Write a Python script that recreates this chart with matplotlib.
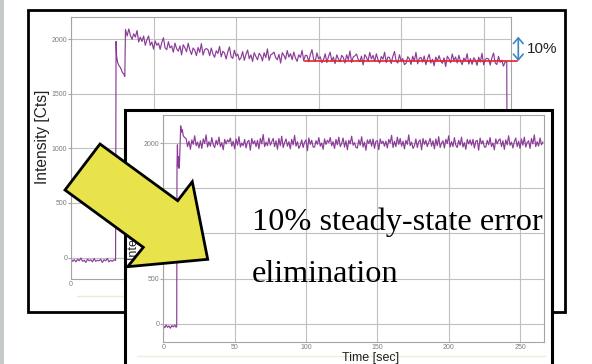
import numpy as np
import matplotlib
matplotlib.use('Agg')
import matplotlib.pyplot as plt
from matplotlib.patches import Rectangle, Polygon, FancyArrowPatch

# ---------------- data ----------------
sample_dt = 1.0  # seconds between samples

# back (uncorrected) trace
back_baseline_start = 0
back_baseline_v = [-10, -35, -20, -40, -15, -30, -5, -35, -25, -45, -15, -30, -20, -40,
                   -10, -35, -25, -30, -15, -45, -20, -30, -10, -40, -25, -35, -20, -28]
back_jump_t = [27.3, 27.6, 28.2, 29.0, 30.0, 31.0, 32.0, 32.6]
back_jump_v = [1980, 1850, 1790, 1760, 1740, 1700, 1680, 1660]
back_steady_start = 33
back_steady_v = [
    2090, 2030, 2095, 2035, 2000, 2050, 2020, 2080, 1975, 2020,
    1980, 2030, 1945, 1995, 2030, 1945, 1975, 1910, 1985, 1945,
    1965, 1908, 1971, 2014, 1922, 1905, 1978, 1921, 1939, 1882,
    1965, 1913, 1891, 1939, 1857, 1950, 1923, 1886, 1964, 1902,
    1860, 1920, 1900, 1850, 1925, 1880, 1960, 1855, 1905, 1915,
    1905, 1850, 1920, 1865, 1835, 1895, 1870, 1935, 1840, 1890,
    1875, 1820, 1885, 1930, 1840, 1825, 1900, 1845, 1865, 1810,
    1832, 1887, 1807, 1862, 1902, 1822, 1857, 1797, 1877, 1842,
    1812, 1872, 1852, 1802, 1877, 1832, 1912, 1807, 1857, 1867,
    1882, 1832, 1812, 1862, 1782, 1877, 1852, 1817, 1897, 1837,
    1868, 1813, 1883, 1828, 1798, 1858, 1833, 1898, 1803, 1853,
    1850, 1795, 1860, 1905, 1815, 1800, 1875, 1820, 1840, 1785,
    1812, 1867, 1787, 1842, 1882, 1802, 1837, 1777, 1857, 1822,
    1793, 1853, 1833, 1783, 1858, 1813, 1893, 1788, 1838, 1848,
    1865, 1815, 1795, 1845, 1765, 1860, 1835, 1800, 1880, 1820,
    1852, 1797, 1867, 1812, 1782, 1842, 1817, 1882, 1787, 1837,
    1833, 1778, 1843, 1888, 1798, 1783, 1858, 1803, 1823, 1768,
    1780, 1840, 1820, 1770, 1845, 1800, 1880, 1775, 1825, 1835,
    1792, 1847, 1767, 1822, 1862, 1782, 1817, 1757, 1837, 1802,
    1850, 1800, 1780, 1830, 1750, 1845, 1820, 1785, 1865, 1805,
    1838, 1783, 1853, 1798, 1768, 1828, 1803, 1868, 1773, 1823,
    1771, 1831, 1811, 1761, 1836, 1791, 1871, 1766, 1816, 1826,
    1819, 1764, 1829, 1874, 1784, 1769, 1844, 1789, 1809, 1754,
    1790, 1795]
back_end_t = [264.4]
back_end_v = [-30]
red_line_level = 1800
red_line_t = [142, 270]

# front (corrected) trace
front_baseline_start = 0
front_baseline_v = [-20, -45, -15, -40, -25, -50, -20, -35, -15, -40]
front_jump_t = [9.4, 9.6, 9.9, 10.2, 10.6, 11.0, 11.4, 11.8, 12.2, 12.7, 13.3, 14.0, 15.0]
front_jump_v = [-30, 1750, 1980, 1740, 1850, 1720, 1800, 2000, 2190, 2120, 2150, 2080, 2060]
front_steady_start = 16
front_steady_v = [
    2050, 1960, 2020, 1930, 2035, 1985, 2080, 1970, 2010, 1945,
    2025, 1940, 2045, 1995, 2090, 1955, 2015, 1965, 2060, 1980,
    1950, 2030, 1980, 2065, 1960, 2005, 1925, 2040, 1990, 2035,
    2010, 2055, 1965, 2020, 1935, 2045, 1975, 2070, 1955, 2000,
    1970, 2040, 1945, 2015, 2030, 1920, 2050, 1990, 2025, 1960,
    2030, 1935, 2050, 1990, 2095, 1960, 2010, 1970, 2055, 1975,
    2015, 2050, 1960, 2025, 1930, 2050, 1970, 2075, 1950, 2005,
    2045, 1965, 2015, 1935, 2040, 1980, 2085, 1965, 2015, 1940,
    1975, 2035, 1950, 2010, 2035, 1915, 2055, 1985, 2030, 1955,
    1955, 2025, 1985, 2060, 1965, 2000, 1930, 2045, 1985, 2030,
    2005, 2060, 1970, 2015, 1940, 2040, 1980, 2065, 1960, 1995,
    2055, 1955, 2025, 1925, 2030, 1990, 2075, 1975, 2005, 1950,
    1945, 2035, 1975, 2070, 1955, 2010, 1920, 2035, 1995, 2040,
    1965, 2045, 1940, 2020, 2025, 1925, 2045, 1995, 2020, 1965,
    2020, 1945, 2040, 2000, 2085, 1950, 2020, 1960, 2065, 1985,
    2050, 1965, 2020, 1935, 2030, 1985, 2090, 1970, 2010, 1940,
    1970, 2045, 1950, 2015, 2035, 1925, 2050, 1985, 2030, 1960,
    2010, 2050, 1965, 2025, 1935, 2045, 1970, 2070, 1950, 2000,
    2025, 1945, 2040, 1995, 2080, 1955, 2015, 1960, 2060, 1975,
    1950, 2030, 1975, 2065, 1955, 2005, 1930, 2040, 1990, 2035,
    1975, 2040, 1945, 2020, 2030, 1920, 2055, 1990, 2025, 1955,
    1955, 2030, 1980, 2060, 1960, 2000, 1925, 2045, 1990, 2030,
    2045, 1960, 2025, 1930, 2035, 1980, 2080, 1975, 2010, 1945,
    2015, 2055, 1960, 2020, 1940, 2045, 1975, 2065, 1955, 2005,
    2025, 1940, 2050, 1990, 2090, 1960, 2015, 1965, 2055, 1980,
    2010]

x_ticks = [0, 50, 100, 150, 200, 250]
x_tick_labels = ['0', '50', '100', '150', '200', '250']
back_x_tick_labels = ['0', '', '', '', '', '']  # the rest are hidden by the front panel
y_ticks = [0, 500, 1000, 1500, 2000]
y_tick_labels = ['0', '500', '1000', '1500', '2000']

y_label = 'Intensity [Cts]'
x_label = 'Time [sec]'
annot_pct = '10%'
message_line1 = '10% steady-state error'
message_line2 = 'elimination'

# ---------------- figure ----------------
W, H = 592, 364
purple = '#8b3c98'
grid_c = '#c0c0c0'
spine_c = '#a4a4a4'
tick_c = '#7c7c7c'
sans = ['Liberation Sans', 'DejaVu Sans']
serif = ['Liberation Serif', 'DejaVu Serif']

fig = plt.figure(figsize=(W / 100, H / 100), dpi=100)
fig.patch.set_facecolor('white')


def px_rect(x0, y0, x1, y1):
    return [x0 / W, 1 - y1 / H, (x1 - x0) / W, (y1 - y0) / H]


def canvas(z):
    a = fig.add_axes([0, 0, 1, 1], zorder=z)
    a.set_xlim(0, W)
    a.set_ylim(H, 0)
    a.axis('off')
    return a


def series(b_start, b_v, j_t, j_v, s_start, s_v, e_t=(), e_v=()):
    t = np.concatenate([b_start + np.arange(len(b_v)) * sample_dt, j_t,
                        s_start + np.arange(len(s_v)) * sample_dt, e_t])
    v = np.concatenate([b_v, j_v, s_v, e_v])
    return t, v


def style(ax, xlim, ylim, xlabels):
    ax.set_xlim(*xlim)
    ax.set_ylim(*ylim)
    ax.set_xticks(x_ticks)
    ax.set_xticklabels(xlabels, family=sans)
    ax.set_yticks(y_ticks)
    ax.set_yticklabels(y_tick_labels, family=sans)
    ax.grid(True, color=grid_c, lw=0.8)
    ax.set_axisbelow(True)
    ax.set_facecolor('white')
    for s in ax.spines.values():
        s.set_color(spine_c)
        s.set_linewidth(0.8)
    ax.tick_params(axis='y', length=2.2, width=0.8, color=spine_c, pad=0.4,
                   labelsize=5, labelcolor=tick_c)
    ax.tick_params(axis='x', length=0, pad=1.2, labelsize=5, labelcolor=tick_c)


# background layer
bg = canvas(0)
bg.add_patch(Rectangle((0, 0), 3.5, H, color='#c6cac6', lw=0))
bg.add_patch(Rectangle((27.5, 9.5), 537.5, 302, facecolor='white', edgecolor='black', lw=2))
bg.text(43, 137, y_label, rotation=90, ha='center', va='center', fontsize=11.2,
        family=sans, color='#222222')
bg.plot([77, 124], [296, 296], color='#efe9d3', lw=1)

# back chart
axb = fig.add_axes(px_rect(71, 16.7, 510.7, 279), zorder=1)
style(axb, (0, 266.4), (-197, 2207), back_x_tick_labels)
tb, vb = series(back_baseline_start, back_baseline_v, back_jump_t, back_jump_v,
                back_steady_start, back_steady_v, back_end_t, back_end_v)
axb.plot(tb, vb, color=purple, lw=0.85)
axb.plot(red_line_t, [red_line_level, red_line_level], color='#e42228', lw=1.2,
         clip_on=False, zorder=5)

# front panel layer
mid = canvas(2)
mid.add_patch(Rectangle((124.5, 109.5), 427.5, 280, facecolor='white', edgecolor='black', lw=2.2))
mid.plot([137, 545], [355.5, 355.5], color='#f1ecd8', lw=1)
mid.text(371, 357.5, x_label, ha='center', va='center', fontsize=9, family=sans,
         color='#222222')
mid.text(134, 222, y_label, rotation=90, ha='center', va='center', fontsize=9,
         family=sans, color='#222222')

# front chart
axf = fig.add_axes(px_rect(163.3, 115, 544.3, 342.3), zorder=3)
style(axf, (0, 267.0), (-206, 2310), x_tick_labels)
tf, vf = series(front_baseline_start, front_baseline_v, front_jump_t, front_jump_v,
                front_steady_start, front_steady_v)
axf.plot(tf, vf, color=purple, lw=0.85)

# top layer: arrow and annotations
top = canvas(4)
arrow_pts = [(100, 144), (177.7, 200.7), (192.3, 181.7), (207.7, 259.3),
             (127.7, 266.7), (143.3, 247.3), (65, 190)]
top.add_patch(Polygon(arrow_pts, closed=True, facecolor='#e8e34a', edgecolor='black',
                      lw=2, joinstyle='miter'))
top.text(252, 230, message_line1, fontsize=23.2, family=serif, color='black',
         ha='left', va='baseline')
top.text(252, 281.5, message_line2, fontsize=23.2, family=serif, color='black',
         ha='left', va='baseline')
top.add_patch(FancyArrowPatch((518.3, 61), (518.3, 36.7),
                              arrowstyle='<->,head_length=0.4,head_width=0.35',
                              mutation_scale=10, color='#3a86c2', lw=1.2,
                              shrinkA=0, shrinkB=0))
top.text(527, 49, annot_pct, fontsize=11, family=sans, color='#222222',
         ha='left', va='center')

fig.savefig('out.png', dpi=100, facecolor='white')
